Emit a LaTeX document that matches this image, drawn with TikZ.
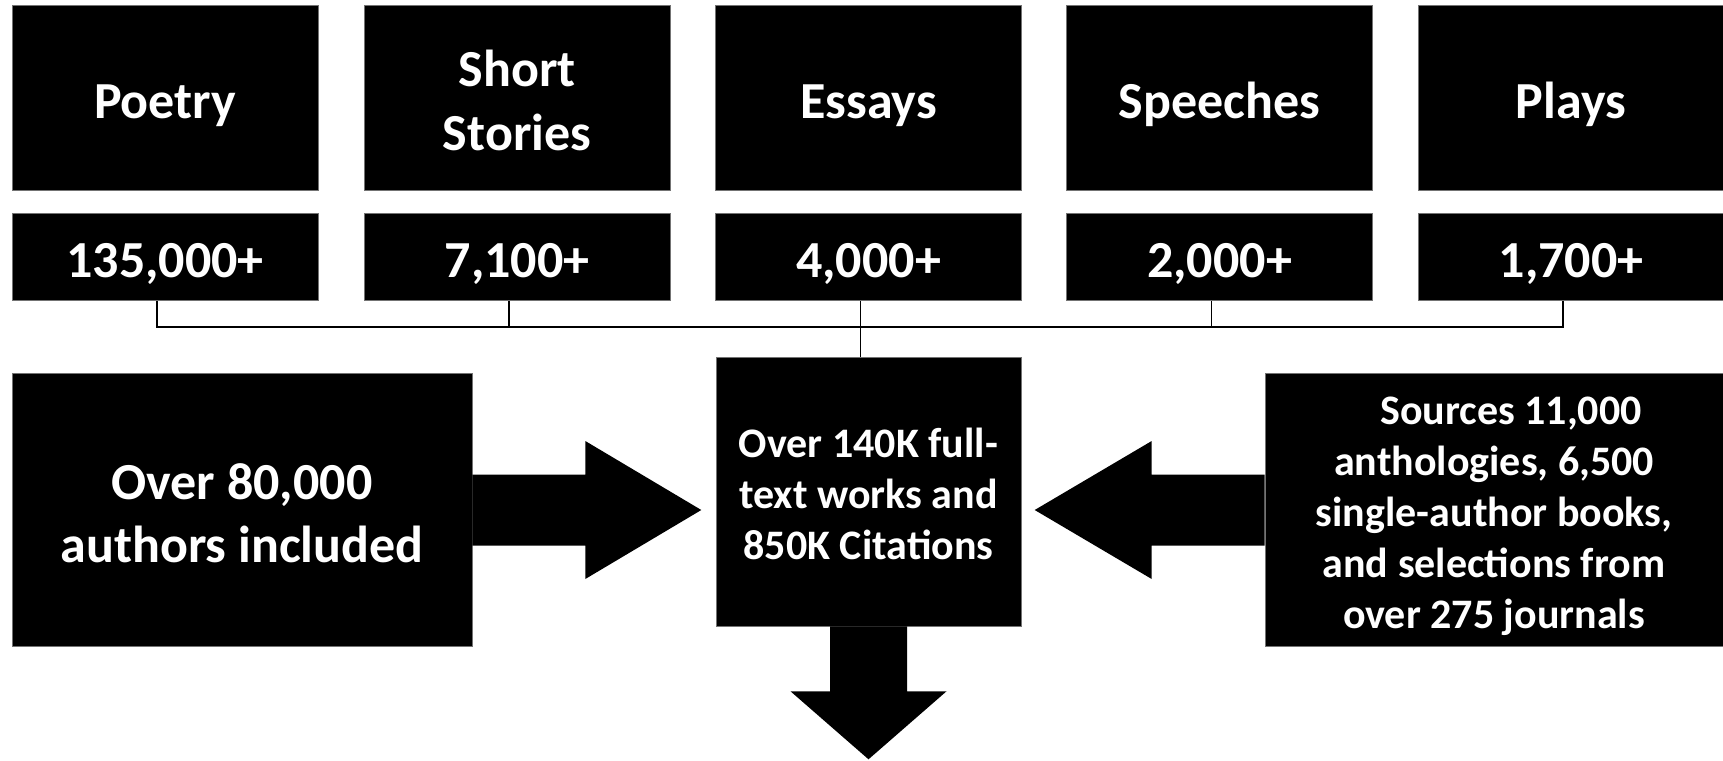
\documentclass[tikz,border=0pt]{standalone}
\usepackage{fontspec}
\setmainfont{Carlito}
\newcommand\ts{\rule{0pt}{1.05em}}
\newcommand\bs{\rule[-0.25em]{0pt}{0pt}}
\begin{document}
\begin{tikzpicture}[x=1pt,y=-1pt,
  blk/.style={fill=black, draw=black!55, line width=0.6pt, text=white, inner sep=0pt, align=center, anchor=center},
  big/.style={font=\bfseries\fontsize{52}{63.5}\selectfont},
  mid/.style={font=\bfseries\fontsize{42}{51}\selectfont},
  cat/.style={blk, big, minimum width=306pt, minimum height=185.7pt},
  num/.style={blk, big, minimum width=306pt, minimum height=87.4pt},
  conn/.style={draw=black, line width=1.3pt},
  blockarrow/.style={fill=black, draw=none}
]
\useasboundingbox (0,0) rectangle (1723,760);
% category boxes
\node[cat] (c1) at (165,97.9) {\ts Poetry\bs};
\node[cat] (c2) at (517,97.9) {\ts Short\\Stories\bs};
\node[cat] (c3) at (868.5,97.9) {\ts Essays\bs};
\node[cat] (c4) at (1219.5,97.9) {\ts Speeches\bs};
\node[cat] (c5) at (1571,97.9) {\ts Plays\bs};
% number boxes
\node[num] (n1) at (165,257) {\ts 135,000+\bs};
\node[num] (n2) at (517,257) {\ts 7,100+\bs};
\node[num] (n3) at (868.5,257) {\ts 4,000+\bs};
\node[num] (n4) at (1219.5,257) {\ts 2,000+\bs};
\node[num] (n5) at (1571,257) {\ts 1,700+\bs};
% central and side boxes
\node[blk, mid, minimum width=305pt, minimum height=269pt] (C) at (868.5,491.5) {\ts Over 140K full-\\text works and\\850K Citations\bs};
\node[blk, big, minimum width=460pt, minimum height=273.4pt] (L) at (242,510) {\ts Over 80,000\\authors included\bs};
\node[blk, mid, minimum width=458pt, minimum height=273.4pt] (R) at (1494,510) {\ts\hspace*{34pt}Sources 11,000\\anthologies, 6,500\\single-author books,\\and selections from\\over 275 journals\bs};
% bus connectors
\coordinate (hb) at (0,327);
\draw[conn] ([xshift=-8pt]n1.south) |- ([xshift=-8pt]n5.south |- hb) -- ([xshift=-8pt]n5.south);
\foreach \i in {2,4} {
  \draw[conn] ([xshift=-8pt]n\i.south) -- ([xshift=-8pt]n\i.south |- hb);
}
\draw[conn] ([xshift=-8pt]n3.south) -- ([xshift=-8pt]n3.south |- C.north);
% block arrows (shifts are in page directions: positive yshift = up)
\fill[blockarrow] ([yshift=35.5pt]L.east) -- ([xshift=113pt,yshift=35.5pt]L.east) -- ([xshift=113pt,yshift=69pt]L.east) -- ([xshift=229pt]L.east) -- ([xshift=113pt,yshift=-69pt]L.east) -- ([xshift=113pt,yshift=-35.5pt]L.east) -- ([yshift=-35.5pt]L.east) -- cycle;
\fill[blockarrow] ([yshift=35.5pt]R.west) -- ([xshift=-113pt,yshift=35.5pt]R.west) -- ([xshift=-113pt,yshift=69pt]R.west) -- ([xshift=-230pt]R.west) -- ([xshift=-113pt,yshift=-69pt]R.west) -- ([xshift=-113pt,yshift=-35.5pt]R.west) -- ([yshift=-35.5pt]R.west) -- cycle;
\fill[blockarrow] ([xshift=-38.5pt]C.south) -- ([xshift=-38.5pt,yshift=-65pt]C.south) -- ([xshift=-78pt,yshift=-65pt]C.south) -- ([yshift=-133pt]C.south) -- ([xshift=78pt,yshift=-65pt]C.south) -- ([xshift=38.5pt,yshift=-65pt]C.south) -- ([xshift=38.5pt]C.south) -- cycle;
\end{tikzpicture}
\end{document}
